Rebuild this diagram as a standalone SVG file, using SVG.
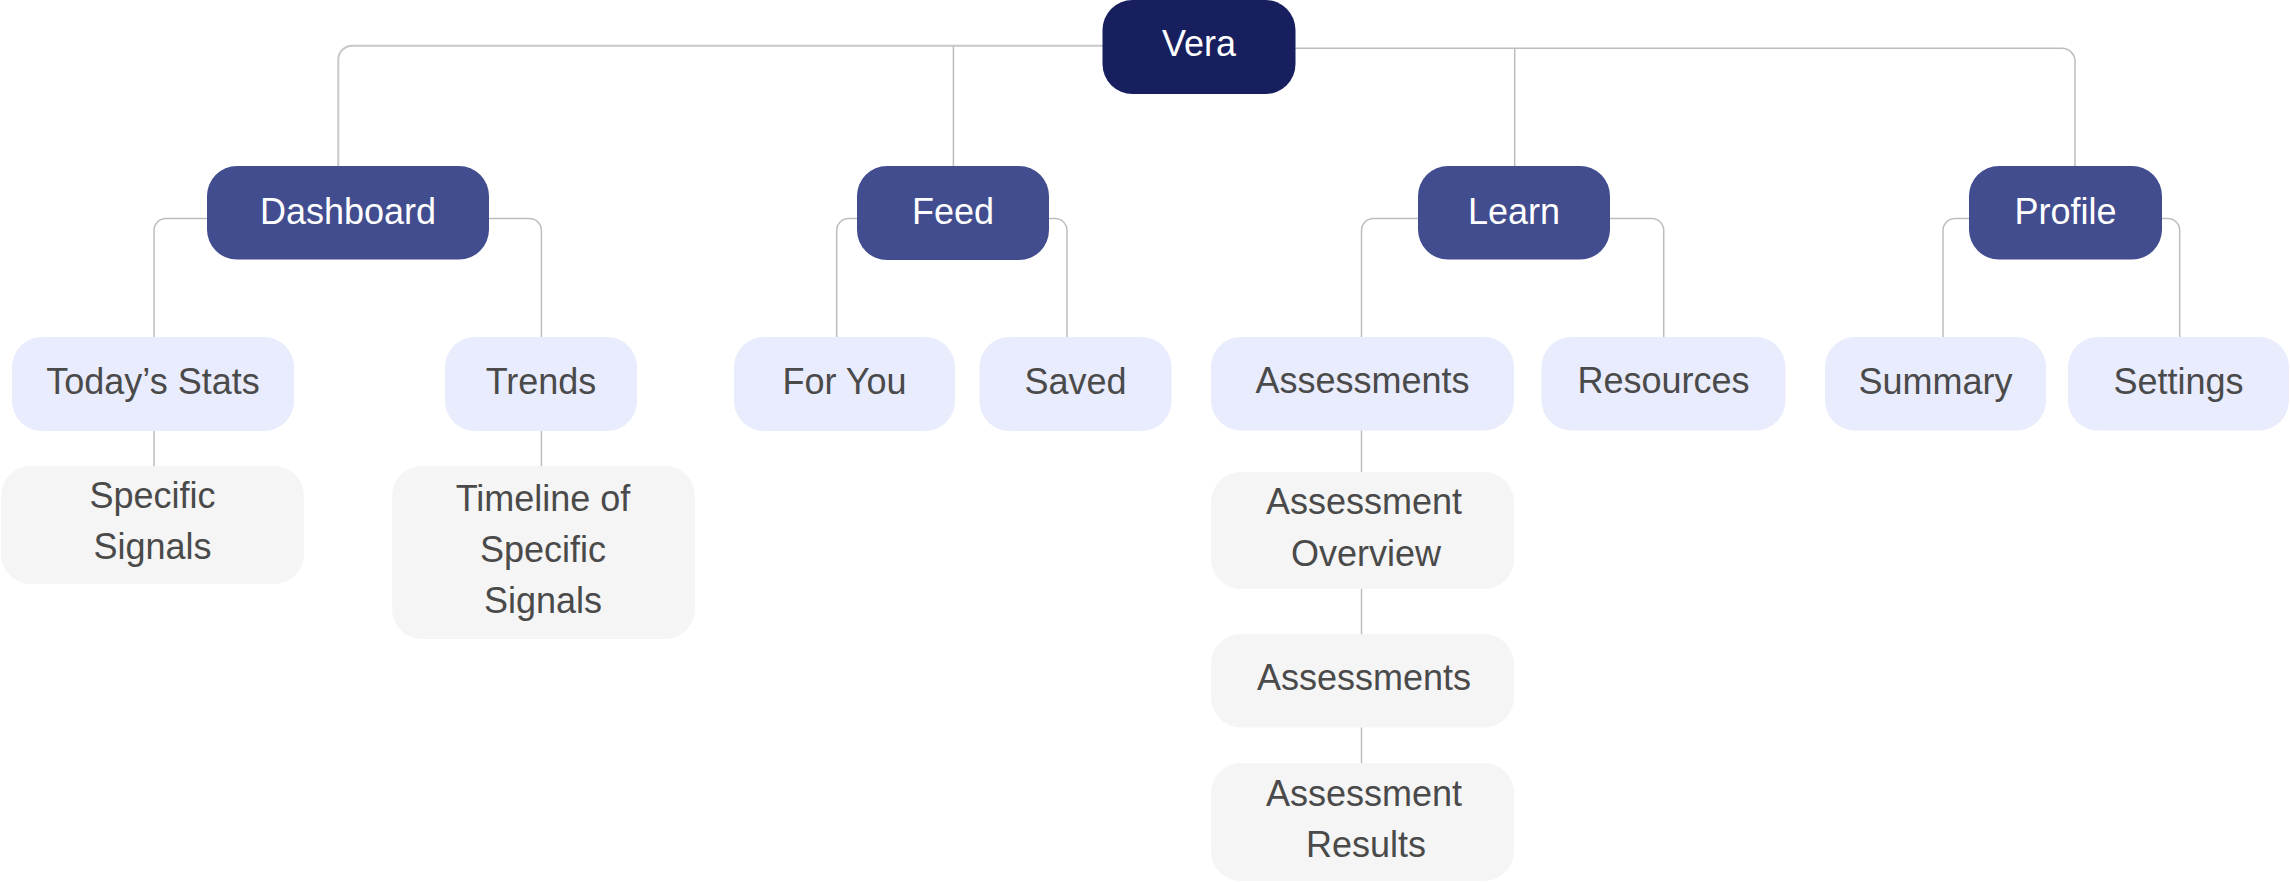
<svg xmlns="http://www.w3.org/2000/svg" width="2290" height="882" viewBox="0 0 2290 882">
<style>
.root{fill:#171F5E}
.l1{fill:#424D8F}
.l2{fill:#E9ECFD}
.l3{fill:#F5F5F5}
text{font-family:"Liberation Sans",Arial,sans-serif;font-size:36px;text-anchor:middle}
.w{fill:#FFFFFF}
.g{fill:#4A4A4A}
.c{fill:none;stroke:#BDBDBD;stroke-width:1.5}
.ct{fill:none;stroke:#C8C8C8;stroke-width:2}
</style>
<rect width="2290" height="882" fill="#FFFFFF"/>
<g id="connectors">
<path class="ct" d="M1110 45.7 H352.3 A14 14 0 0 0 338.3 59.7 V170"/>
<path class="c" d="M953.4 45.7 V170"/>
<path class="c" d="M1290 48.3 H2062 A13 13 0 0 1 2075 61.3 V170"/>
<path class="c" d="M1514.7 48.3 V170"/>
<path class="c" d="M215 218.5 H166 A12 12 0 0 0 154 230.5 V340"/>
<path class="c" d="M480 218.5 H529.4 A12 12 0 0 1 541.4 230.5 V340"/>
<path class="c" d="M865 218.5 H848.7 A12 12 0 0 0 836.7 230.5 V340"/>
<path class="c" d="M1040 218.5 H1055 A12 12 0 0 1 1067 230.5 V340"/>
<path class="c" d="M1425 218.5 H1373.5 A12 12 0 0 0 1361.5 230.5 V340"/>
<path class="c" d="M1600 218.5 H1651.7 A12 12 0 0 1 1663.7 230.5 V340"/>
<path class="c" d="M1975 218.5 H1955 A12 12 0 0 0 1943 230.5 V340"/>
<path class="c" d="M2155 218.5 H2167.7 A12 12 0 0 1 2179.7 230.5 V340"/>
<path class="c" d="M154 428 V469"/>
<path class="c" d="M541.4 428 V469"/>
<path class="c" d="M1361.5 428 V475"/>
<path class="c" d="M1361.5 586 V637"/>
<path class="c" d="M1361.5 724 V766"/>
</g>
<g id="vera"><rect class="root" x="1102.5" y="0" width="193" height="94" rx="30"/><text class="w" x="1199" y="56">Vera</text></g>
<g id="dashboard"><rect class="l1" x="207" y="166" width="282" height="93.5" rx="30"/><text class="w" x="348" y="224">Dashboard</text></g>
<g id="feed"><rect class="l1" x="857" y="166" width="192" height="94" rx="30"/><text class="w" x="953" y="224">Feed</text></g>
<g id="learn"><rect class="l1" x="1418" y="166" width="192" height="93.5" rx="30"/><text class="w" x="1514" y="224">Learn</text></g>
<g id="profile"><rect class="l1" x="1969" y="166" width="193" height="93.5" rx="30"/><text class="w" x="2065.5" y="224">Profile</text></g>
<g id="todays-stats"><rect class="l2" x="12" y="337" width="282" height="94" rx="30"/><text class="g" x="153" y="394">Today’s Stats</text></g>
<g id="trends"><rect class="l2" x="445" y="337" width="192" height="94" rx="30"/><text class="g" x="541" y="394">Trends</text></g>
<g id="for-you"><rect class="l2" x="734" y="337" width="221" height="94" rx="30"/><text class="g" x="844.5" y="394">For You</text></g>
<g id="saved"><rect class="l2" x="979.5" y="337" width="192" height="94" rx="30"/><text class="g" x="1075.5" y="394">Saved</text></g>
<g id="assessments"><rect class="l2" x="1211" y="337" width="303" height="93.5" rx="30"/><text class="g" x="1362.5" y="393">Assessments</text></g>
<g id="resources"><rect class="l2" x="1541.5" y="337" width="244" height="93.5" rx="30"/><text class="g" x="1663.5" y="393">Resources</text></g>
<g id="summary"><rect class="l2" x="1825" y="337" width="221" height="93.5" rx="30"/><text class="g" x="1935.5" y="394">Summary</text></g>
<g id="settings"><rect class="l2" x="2068" y="337" width="221" height="93.5" rx="30"/><text class="g" x="2178.5" y="394">Settings</text></g>
<g id="specific-signals"><rect class="l3" x="1" y="466" width="303" height="118" rx="30"/><text class="g" x="152.5" y="508">Specific</text><text class="g" x="152.5" y="559">Signals</text></g>
<g id="timeline"><rect class="l3" x="392" y="466" width="303" height="173" rx="30"/><text class="g" x="543" y="511">Timeline of</text><text class="g" x="543" y="562">Specific</text><text class="g" x="543" y="613">Signals</text></g>
<g id="assessment-overview"><rect class="l3" x="1211" y="472" width="303" height="117" rx="30"/><text class="g" x="1364" y="514">Assessment</text><text class="g" x="1366" y="565.5">Overview</text></g>
<g id="assessments-2"><rect class="l3" x="1211" y="634" width="303" height="93.5" rx="30"/><text class="g" x="1364" y="690">Assessments</text></g>
<g id="assessment-results"><rect class="l3" x="1211" y="763" width="303" height="118" rx="30"/><text class="g" x="1364" y="806">Assessment</text><text class="g" x="1366" y="856.5">Results</text></g>
</svg>
